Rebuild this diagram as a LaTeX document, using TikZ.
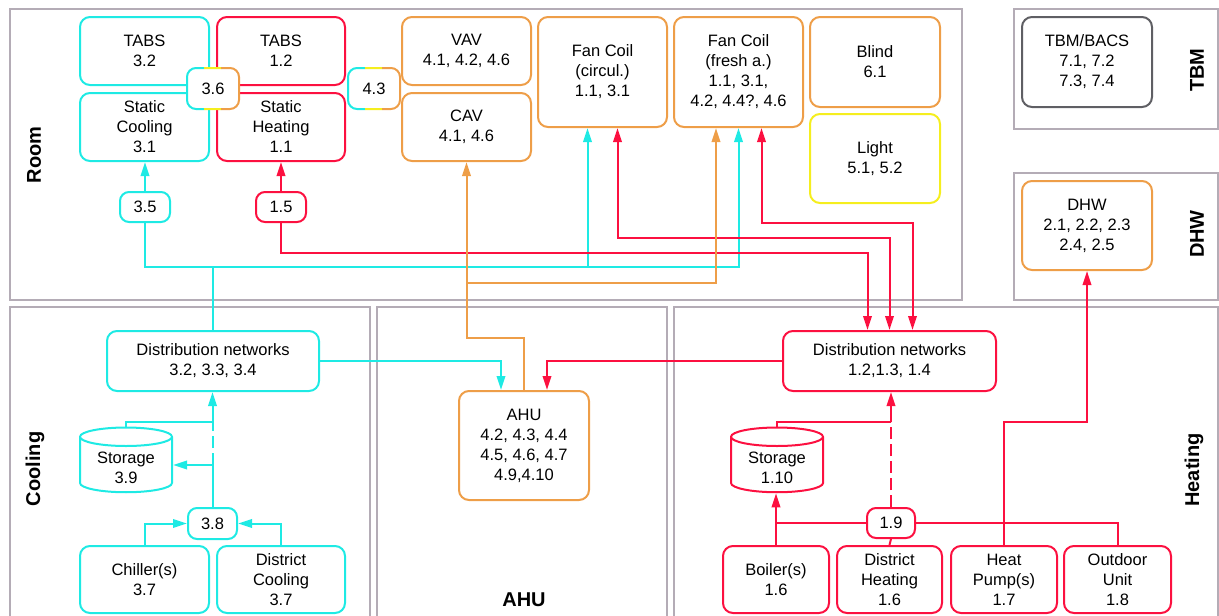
\documentclass[tikz,border=0pt]{standalone}
\usepackage{fontspec}
\setmainfont{Liberation Sans}
\usetikzlibrary{arrows.meta,shapes.geometric}
\definecolor{coolc}{RGB}{30,234,228}
\definecolor{heatc}{RGB}{252,16,64}
\definecolor{airc}{RGB}{238,158,72}
\definecolor{lightc}{RGB}{245,238,30}
\definecolor{tbmc}{RGB}{95,95,100}
\definecolor{zonec}{RGB}{180,172,182}
\newcommand{\txt}{\fontsize{16.5}{20}\selectfont}
\newcommand{\zonetxt}{\fontsize{20}{24}\selectfont\bfseries}
\newcommand{\tribox}[1]{%
  \foreach \col/\xa/\xb in {coolc/-40pt/-9pt, lightc/-9pt/8pt, airc/8pt/40pt}{%
    \begin{scope}
      \clip ([xshift=\xa, yshift=-6pt]#1.south) rectangle ([xshift=\xb, yshift=6pt]#1.north);
      \draw[\col, line width=2pt, rounded corners=9pt] (#1.south west) rectangle (#1.north east);
    \end{scope}}}

\begin{document}
\begin{tikzpicture}[x=1pt, y=-1pt, line width=2pt, >={Triangle[length=14pt,width=8.5pt]},
  box/.style={draw, fill=white, rounded corners=10pt, line width=2pt, align=center, font=\txt, inner sep=0pt},
  cbox/.style={box, draw=coolc}, hbox/.style={box, draw=heatc}, abox/.style={box, draw=airc},
  lbox/.style={box, draw=lightc}, gbox/.style={box, draw=tbmc},
  cyl/.style={cylinder, shape border rotate=90, aspect=0.32, draw, fill=white, line width=2pt, align=center, font=\txt, inner sep=0pt, text height=36pt, text depth=0pt},
  sz/.style 2 args={minimum width=#1pt, minimum height=#2pt},
  zone/.style={draw=zonec, line width=2pt},
  zlbl/.style={font=\zonetxt, inner sep=0pt},
  cpipe/.style={draw=coolc, line width=2pt}, hpipe/.style={draw=heatc, line width=2pt},
  apipe/.style={draw=airc, line width=2pt},
  brk/.style={dash pattern=on 12pt off 5pt}]
  \useasboundingbox (0,0) rectangle (1219,616);

  \draw[zone] (10,9) rectangle (962,300);
  \draw[zone] (1014,9) rectangle (1218,129);
  \draw[zone] (1014,173) rectangle (1218,300);
  \draw[zone] (10,307) rectangle (370,640);
  \draw[zone] (377,307) rectangle (667,640);
  \draw[zone] (674,307) rectangle (1218,640);

  \node[zlbl, rotate=90] (lroom) at (34,155) {Room};
  \node[zlbl, rotate=90] (lcool) at (35,469) {Cooling};
  \node[zlbl] (lahu) at (524,600) {AHU};
  \node[zlbl, rotate=90] (lheat) at (1194,470) {Heating};
  \node[zlbl, rotate=90] (ltbm) at (1197,70) {TBM};
  \node[zlbl, rotate=90] (ldhw) at (1197,234) {DHW};

  \node[cbox, sz={129}{68}] (tabsC) at (144.5,51) {TABS\\3.2};
  \node[hbox, sz={128}{68}] (tabsH) at (281,51) {TABS\\1.2};
  \node[cbox, sz={129}{68}] (statC) at (144.5,127) {Static\\Cooling\\3.1};
  \node[hbox, sz={128}{68}] (statH) at (281,127) {Static\\Heating\\1.1};
  \node[box, draw=none, sz={50}{39}] (n36) at (213,88.5) {3.6};
  \tribox{n36}
  \node[box, draw=none, sz={50}{39}] (n43) at (374,88.5) {4.3};
  \tribox{n43}
  \node[cbox, rounded corners=9pt, sz={50}{30}] (n35) at (145,207) {3.5};
  \node[hbox, rounded corners=9pt, sz={50}{30}] (n15) at (281,207) {1.5};
  \node[abox, sz={129}{68}] (vav) at (466.5,51) {VAV\\4.1, 4.2, 4.6};
  \node[abox, sz={129}{68}] (cav) at (466.5,127) {CAV\\4.1, 4.6};
  \node[abox, sz={129}{110}] (fcc) at (602.5,72) {Fan Coil\\(circul.)\\1.1, 3.1};
  \node[abox, sz={129}{110}] (fcf) at (738.5,72) {Fan Coil\\(fresh a.)\\1.1, 3.1,\\4.2, 4.4?, 4.6};
  \node[abox, sz={130}{90}] (blind) at (875,62) {Blind\\6.1};
  \node[lbox, sz={130}{89}] (light) at (875,158.5) {Light\\5.1, 5.2};
  \node[gbox, sz={130}{90}] (bacs) at (1087,62) {TBM/BACS\\7.1, 7.2\\7.3, 7.4};
  \node[abox, sz={130}{89}] (dhw) at (1087,225.5) {DHW\\2.1, 2.2, 2.3\\2.4, 2.5};

  \node[cbox, sz={212}{60}] (distC) at (213,361) {Distribution networks\\3.2, 3.3, 3.4};
  \node[cyl, draw=coolc, sz={92}{64}] (stoC) at (126,465) {Storage\\3.9};
  \node[cbox, rounded corners=9pt, sz={49}{31}] (n38) at (212.5,523.5) {3.8};
  \node[cbox, sz={129}{67}] (chil) at (144.5,579.5) {Chiller(s)\\3.7};
  \node[cbox, sz={128}{67}] (dcool) at (281,579.5) {District\\Cooling\\3.7};

  \node[abox, sz={130}{109}] (ahu) at (524,445.5) {AHU\\4.2, 4.3, 4.4\\4.5, 4.6, 4.7\\4.9,4.10};

  \node[hbox, sz={213}{60}] (distH) at (889.5,361) {Distribution networks\\1.2,1.3, 1.4};
  \node[cyl, draw=heatc, sz={92}{62}] (stoH) at (777,465) {Storage\\1.10};
  \node[hbox, rounded corners=9pt, sz={48}{30}] (n19) at (891,523) {1.9};
  \node[hbox, sz={106}{67}] (boil) at (776,579.5) {Boiler(s)\\1.6};
  \node[hbox, sz={105}{67}] (dheat) at (889.5,579.5) {District\\Heating\\1.6};
  \node[hbox, sz={106}{67}] (hp) at (1004,579.5) {Heat\\Pump(s)\\1.7};
  \node[hbox, sz={107}{67}] (odu) at (1117.5,579.5) {Outdoor\\Unit\\1.8};

  \coordinate (cbus) at (213,267);
  \coordinate (fccC) at ([xshift=-15pt]fcc.south);
  \coordinate (fccH) at ([xshift=15pt]fcc.south);
  \coordinate (fcfA) at ([xshift=-22.5pt]fcf.south);
  \coordinate (fcfH) at ([xshift=23pt]fcf.south);
  \coordinate (dh1) at ([xshift=-22pt]distH.north);
  \coordinate (dh3) at ([xshift=23pt]distH.north);
  \coordinate (ahuC) at ([xshift=-23pt]ahu.north);
  \coordinate (ahuH) at ([xshift=23pt]ahu.north);

  \draw[cpipe,->] (n35.north) -- (n35.north |- statC.south);
  \draw[hpipe,->] (n15.north) -- (n15.north |- statH.south);
  \draw[cpipe] (n35.south) |- (cbus) -- (distC.north);
  \draw[cpipe,->] (cbus) -| (fcf.south);
  \draw[cpipe,->] (fccC |- cbus) -- (fccC);
  \draw[hpipe,->] (n15.south) -- ++(0,30) -| (dh1);
  \draw[hpipe,<->] (fccH) -- ++(0,110) -| (distH.north);
  \draw[hpipe,<->] (fcfH) -- ++(0,95) -| (dh3);
  \draw[apipe,->] (ahu.north) -- ++(0,-52) -| (cav.south);
  \draw[apipe,->] (cav.south) ++(0,121) -| (fcfA);
  \draw[cpipe,->] (distC.east) -| (ahuC);
  \draw[hpipe,->] (distH.west) -| (ahuH);

  \coordinate (cA) at (212.5,422);
  \coordinate (cB) at (212.5,465);
  \draw[cpipe,->] (cA) -- (cA |- distC.south);
  \draw[cpipe,brk] (cB) -- (cA);
  \draw[cpipe] (n38.north) -- (cB);
  \draw[cpipe] (stoC.north) |- (cA);
  \draw[cpipe,->] (cB) -- (stoC.east);
  \draw[cpipe,->] (chil.north) |- (n38.west);
  \draw[cpipe,->] (dcool.north) |- (n38.east);

  \coordinate (hA) at (891,422);
  \draw[hpipe,->] (hA) -- (hA |- distH.south);
  \draw[hpipe,brk] (n19.north) -- (hA);
  \draw[hpipe] (stoH.north) |- (hA);
  \draw[hpipe,->] (boil.north) -- (boil.north |- stoH.south);
  \draw[hpipe] (boil.north |- n19.west) -- (n19.west);
  \draw[hpipe] (dheat.north) -- (n19.south);
  \draw[hpipe] (n19.east) -| (odu.north);
  \draw[hpipe,->] (hp.north) |- (dhw.south |- hA) -- (dhw.south);
\end{tikzpicture}
\end{document}
